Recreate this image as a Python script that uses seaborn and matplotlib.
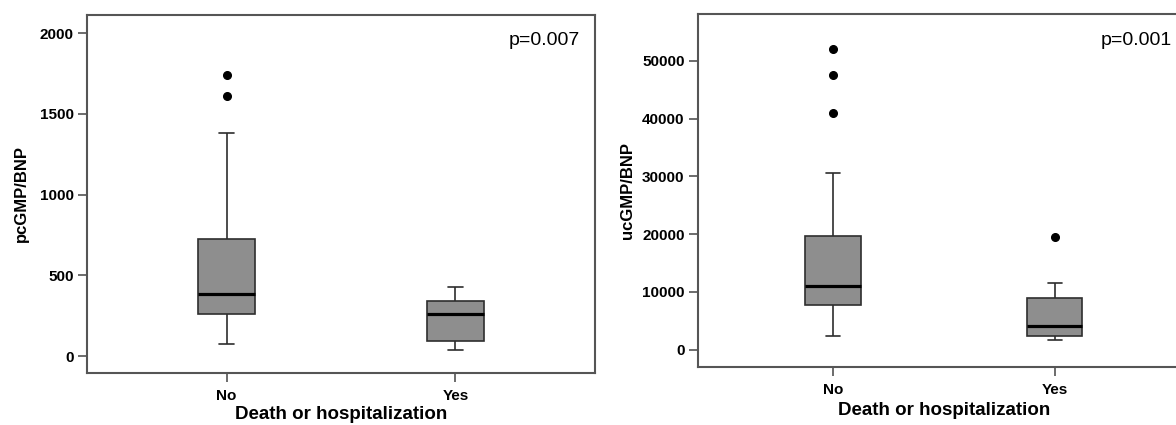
import numpy as np
import pandas as pd
import seaborn as sns
import matplotlib.pyplot as plt

# Box summaries: whisker low, Q1, median, Q3, whisker high, outliers
groups = ["No", "Yes"]

pcgmp_low = [72, 37]
pcgmp_q1 = [258, 93]
pcgmp_med = [382, 262]
pcgmp_q3 = [725, 341]
pcgmp_high = [1384, 430]
pcgmp_out = [[1614, 1738], []]

ucgmp_low = [2370, 1670]
ucgmp_q1 = [7740, 2370]
ucgmp_med = [10970, 4160]
ucgmp_q3 = [19690, 9000]
ucgmp_high = [30540, 11600]
ucgmp_out = [[41050, 47570, 52080], [19510]]

p_left = "p=0.007"
p_right = "p=0.001"


def build_frame(low, q1, med, q3, high, outs):
    # sample whose quartiles/whiskers reproduce the summary (linear quantiles)
    rows = []
    for g, lo, a, m, b, hi, out in zip(groups, low, q1, med, q3, high, outs):
        r = len(out) + 1
        vals = [lo] + [a] * r + [m] * r + [b] * r + [hi] + list(out)
        rows += [(g, v) for v in vals]
    return pd.DataFrame(rows, columns=["group", "value"])


df_p = build_frame(pcgmp_low, pcgmp_q1, pcgmp_med, pcgmp_q3, pcgmp_high, pcgmp_out)
df_u = build_frame(ucgmp_low, ucgmp_q1, ucgmp_med, ucgmp_q3, ucgmp_high, ucgmp_out)

sns.set_style("white")
plt.rcParams["font.family"] = ["Liberation Sans", "DejaVu Sans"]
plt.rcParams["text.color"] = "black"
plt.rcParams["axes.labelcolor"] = "black"

fig = plt.figure(figsize=(11.76, 4.25), dpi=100)
ax1 = fig.add_axes([0.0740, 0.1224, 0.4320, 0.8424])
ax2 = fig.add_axes([0.5933, 0.1353, 0.4186, 0.8318])

box_kws = dict(
    x="group", y="value", order=groups, color="#8e8e8e", linecolor="#2e2e2e",
    saturation=1, width=0.25, linewidth=1.2, whis=1.5, capwidths=0.065,
    medianprops=dict(color="black", linewidth=2.3),
    flierprops=dict(marker="o", markerfacecolor="black", markeredgecolor="black",
                    markersize=5.5),
)

sns.boxplot(data=df_p, ax=ax1, **box_kws)
sns.boxplot(data=df_u, ax=ax2, **box_kws)

settings = [
    (ax1, "pcGMP/BNP", (-105, 2113), [0, 500, 1000, 1500, 2000], p_left, -0.114, 2),
    (ax2, "ucGMP/BNP", (-3080, 58140), [0, 10000, 20000, 30000, 40000, 50000], p_right, -0.127, 3),
]
for ax, ylab, ylim, yticks, ptxt, labx, xpad in settings:
    ax.set_xlim(-0.61, 1.61)
    ax.set_ylim(*ylim)
    ax.set_yticks(yticks)
    ax.set_xticks([0, 1])
    ax.set_xticklabels(groups)
    ax.set_ylabel(ylab, fontsize=12, fontweight="bold", color="black")
    ax.yaxis.set_label_coords(labx, 0.5)
    ax.set_xlabel("Death or hospitalization", fontsize=13.5, fontweight="bold",
                  color="black", labelpad=xpad)
    ax.tick_params(axis="both", direction="out", length=6.5, width=1.1,
                   color="#444444", labelcolor="black", labelsize=11, pad=3,
                   bottom=True, left=True)
    ax.tick_params(axis="x", pad=5)
    for lab in ax.get_xticklabels() + ax.get_yticklabels():
        lab.set_fontweight("bold")
    for sp in ax.spines.values():
        sp.set_color("#555555")
        sp.set_linewidth(1.5)
        sp.set_visible(True)
    ax.text(0.97, 0.93, ptxt, transform=ax.transAxes, ha="right", va="center",
            fontsize=14, color="black")

# right-hand p value sits a bit closer to the clipped edge
ax2.texts[-1].set_position((0.963, 0.925))

fig.savefig("out.png", dpi=100)
